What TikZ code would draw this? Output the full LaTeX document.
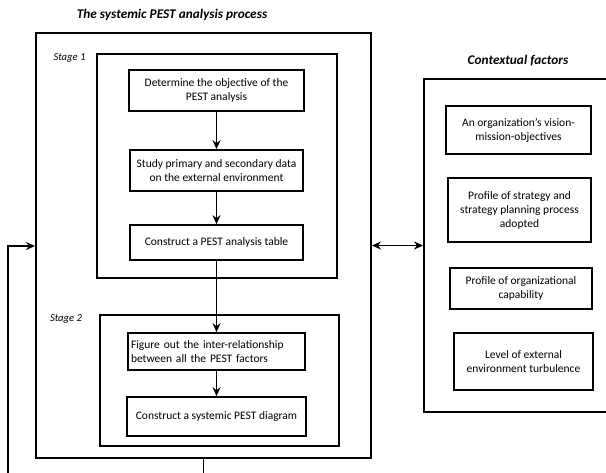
\documentclass[tikz,border=0pt]{standalone}
\usepackage{fontspec}
\setmainfont{Carlito}
\usetikzlibrary{arrows.meta}
\begin{document}
\begin{tikzpicture}[x=1pt,y=-1pt,
  frame/.style={draw, line width=1.9pt, inner sep=0pt},
  stepbox/.style={draw, line width=1.7pt, align=center, font=\fontsize{11.5}{14}\selectfont, inner sep=2pt},
  conn/.style={line width=1.7pt, -{Stealth[length=9pt,width=8pt]}},
  ttl/.style={font=\fontsize{13.3}{15}\selectfont\bfseries\itshape},
  stg/.style={font=\fontsize{10.6}{12}\selectfont\itshape}]
\clip (0,0) rectangle (606,472);
\useasboundingbox (0,0) rectangle (606,472);
% frames
\node[frame, minimum width=335pt, minimum height=425pt] (outer) at (203.5,245.5) {};
\node[frame, minimum width=240pt, minimum height=224pt] (s1) at (217,166) {};
\node[frame, minimum width=239pt, minimum height=131pt] (s2) at (219.5,380.5) {};
\node[frame, minimum width=190pt, minimum height=333pt] (ctx) at (519,245.5) {};
% titles
\node[ttl] (t1) at (172,15) {The systemic PEST analysis process};
\node[ttl] (t2) at (518,61) {Contextual factors};
\node[stg] (l1) at (69.5,58) {Stage 1};
\node[stg] (l2) at (66,319) {Stage 2};
% steps
\node[stepbox, minimum width=175pt, minimum height=41pt] (b1) at (216.5,90.5) {Determine the objective of the\\PEST analysis};
\node[stepbox, minimum width=173pt, minimum height=41pt] (b2) at (216.5,170.5) {Study primary and secondary data\\on the external environment};
\node[stepbox, minimum width=173pt, minimum height=35pt] (b3) at (216.5,242.5) {Construct a PEST analysis table};
\node[stepbox, minimum width=177pt, minimum height=37pt, align=left, text width=171pt] (b4) at (216.5,351.5) {Figure out the inter-relationship\\between all the PEST factors};
\node[stepbox, minimum width=179pt, minimum height=39pt] (b5) at (216.5,416.5) {Construct a systemic PEST diagram};
% contextual
\node[stepbox, minimum width=145pt, minimum height=48pt] (c1) at (518.5,130) {An organization's vision-\\mission-objectives};
\node[stepbox, minimum width=143pt, minimum height=64pt] (c2) at (519.5,210) {Profile of strategy and\\strategy planning process\\adopted};
\node[stepbox, minimum width=142pt, minimum height=41pt] (c3) at (521,288.5) {Profile of organizational\\capability};
\node[stepbox, minimum width=139pt, minimum height=57pt] (c4) at (523.5,361.5) {Level of external\\environment turbulence};
% connectors
\draw[conn] (b1) -- (b2);
\draw[conn] (b2) -- (b3);
\draw[conn] (b3) -- (b4);
\draw[conn] (b4) -- (b5);
\draw[conn, {Stealth[length=9pt,width=8pt]}-{Stealth[length=9pt,width=8pt]}] (outer.east) -- (ctx.west);
\coordinate (fb) at (8,246);
\draw[conn] (outer.south) -- ++(0,30) -| (fb) -- (fb -| outer.west);
\end{tikzpicture}
\end{document}
